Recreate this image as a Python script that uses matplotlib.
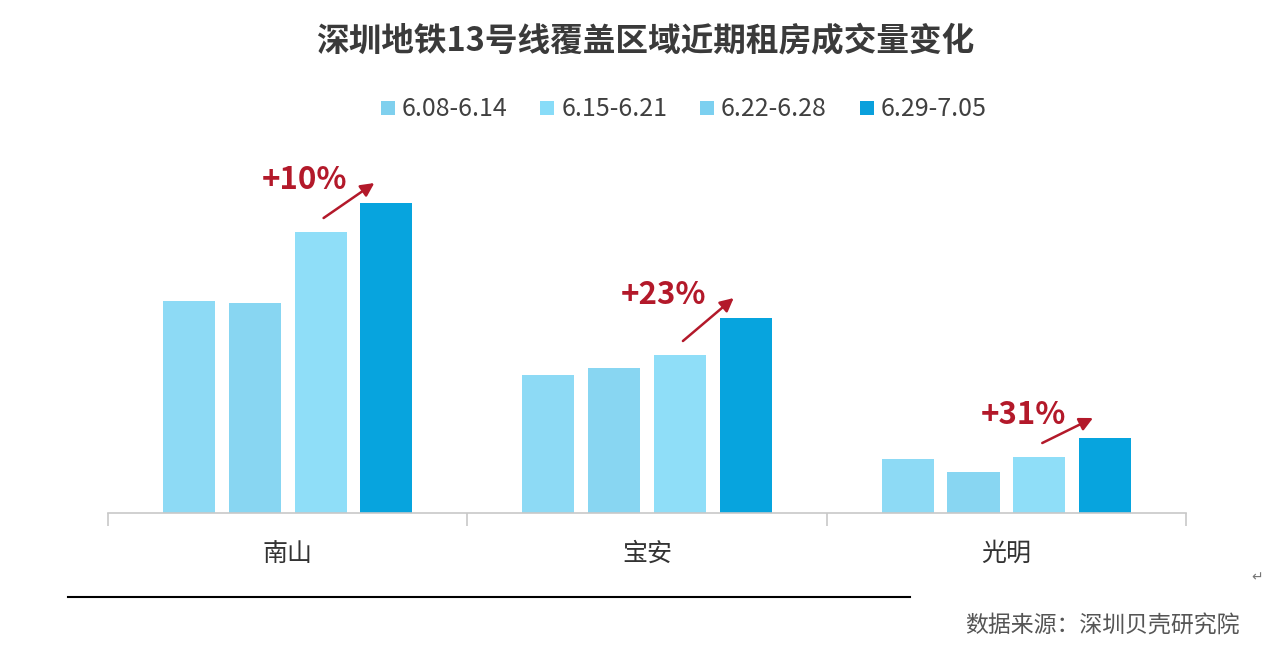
import matplotlib.pyplot as plt
import numpy as np

plt.rcParams['font.family'] = ['Noto Sans CJK SC', 'DejaVu Sans']

# 数据（按图片估读，单位为相对高度）
regions = ['南山', '宝安', '光明']
weeks = ['6.08-6.14', '6.15-6.21', '6.22-6.28', '6.29-7.05']
w1 = [212, 138, 54]
w2 = [210, 145, 41]
w3 = [281, 158, 56]
w4 = [310, 195, 75]
growth_labels = ['+10%', '+23%', '+31%']

bar_colors = ['#8ddaf5', '#88d6f2', '#8fdef8', '#07a4de']
legend_colors = ['#7fd0ee', '#88dcf8', '#7cd0f0', '#0aa0dc']
red = '#b3192a'

fig = plt.figure(figsize=(12.8, 6.47), dpi=100)
ax = fig.add_axes([0.0844, 0.2071, 0.8422, 0.6182])

x = np.arange(len(regions))
step = 0.183
width = 0.145
series = [w1, w2, w3, w4]
for i, vals in enumerate(series):
    ax.bar(x + (i - 1.5) * step, vals, width=width, color=bar_colors[i],
           linewidth=0, zorder=2)

ax.set_xlim(-0.5, 2.5)
ax.set_ylim(0, 400)

# 增长箭头和百分比
px = 1 / 359.3  # 一个像素对应的数据宽度
for j in range(len(regions)):
    x3 = x[j] + 0.5 * step
    x4 = x[j] + 1.5 * step
    ax.annotate('', xy=(x4 - 12 * px, w4[j] + 20), xytext=(x3 + 3 * px, w3[j] + 14),
                arrowprops=dict(arrowstyle='-|>', color=red, lw=1.8,
                                mutation_scale=20, shrinkA=0, shrinkB=0))
    ax.text(x3 - 16 * px, w4[j] + 23, growth_labels[j], color=red,
            fontsize=22.5, fontweight='bold', ha='center', va='center')

# 坐标轴样式
for s in ['top', 'right', 'left']:
    ax.spines[s].set_visible(False)
ax.spines['bottom'].set_color('#c8c8c8')
ax.spines['bottom'].set_linewidth(1.2)
ax.set_yticks([])
ax.set_xticks([-0.5, 0.5, 1.5, 2.5], minor=False)
ax.set_xticklabels([])
ax.tick_params(axis='x', which='major', length=9, color='#c8c8c8', width=1.2)
ax.set_xticks(x, minor=True)
ax.set_xticklabels(regions, minor=True, fontsize=18, color='#333333')
ax.tick_params(axis='x', which='minor', length=0, pad=20)

# 标题
fig.text(0.504, 0.935, '深圳地铁13号线覆盖区域近期租房成交量变化',
         ha='center', va='center', fontsize=23.5, fontweight='bold', color='#3a3a3a')

# 图例
handles = [plt.Line2D([], [], marker='s', linestyle='none', markersize=10.5,
                      markerfacecolor=c, markeredgewidth=0) for c in legend_colors]
fig.legend(handles, weeks, loc='center', bbox_to_anchor=(0.532, 0.831), ncol=4,
           frameon=False, fontsize=18, handletextpad=0.05, columnspacing=1.1,
           handlelength=1.0, labelcolor='#404040')

# 底部分隔线和数据来源
fig.add_artist(plt.Line2D([68 / 1280, 910 / 1280], [1 - 597 / 647] * 2,
                          color='black', lw=1.5))
fig.text(1240 / 1280, 1 - 626 / 647, '数据来源：深圳贝壳研究院', ha='right', va='center',
         fontsize=16.5, color='#555555')
fig.text(1257 / 1280, 1 - 577 / 647, '↵', ha='center', va='center',
         fontsize=10, color='#777777')

fig.savefig('out.png', dpi=100)
